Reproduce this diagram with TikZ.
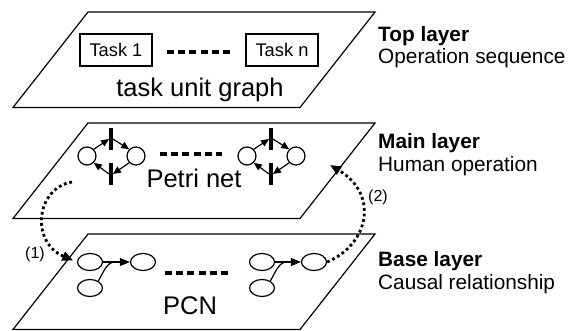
\documentclass[tikz,border=0pt]{standalone}
\usepackage{fontspec}
\setmainfont{Liberation Sans}
\usetikzlibrary{arrows.meta,shapes.geometric}

\tikzset{
  plane/.style={draw, line width=1.2pt, line join=miter},
  taskbox/.style={draw, line width=2.4pt, minimum width=72pt, minimum height=32pt,
    inner sep=0pt, font=\fontsize{18.3}{22}\selectfont},
  layertitle/.style={anchor=base, inner sep=0pt, font=\fontsize{25.5}{30}\selectfont},
  sidehead/.style={anchor=base west, inner sep=0pt, font=\bfseries\fontsize{20.8}{25}\selectfont},
  sidetext/.style={anchor=base west, inner sep=0pt, font=\fontsize{20.8}{25}\selectfont},
  elide/.style={line width=4pt, dash pattern=on 7pt off 4.2pt},
  place/.style={circle, draw, line width=1.2pt, minimum size=18pt, inner sep=0pt},
  trans/.style={rectangle, fill, minimum width=3.4pt, minimum height=22pt, inner sep=0pt},
  parc/.style={line width=1.2pt, -{Triangle[length=8pt,width=7pt]}},
  cnode/.style={ellipse, draw, line width=1.2pt, minimum width=25pt, minimum height=17pt, inner sep=0pt},
  carc/.style={line width=1.2pt, -{Triangle[length=10pt,width=8pt]}},
  cjoin/.style={line width=1.2pt},
  link/.style={line width=2.8pt, dash pattern=on 2.8pt off 2.8pt,
    -{Triangle[length=11pt,width=9pt]}},
  numlabel/.style={inner sep=0pt, font=\fontsize{16}{19}\selectfont},
}

\begin{document}
\begin{tikzpicture}[x=1pt,y=-1pt]
\useasboundingbox (0,0) rectangle (568,331);

% the three layer planes
\draw[plane] (88,12) -- (375,12) -- (300,107.5) -- (13,107.5) -- cycle;
\draw[plane] (88,123) -- (375,123) -- (300,218.5) -- (13,218.5) -- cycle;
\draw[plane] (88,234) -- (375,234) -- (300,329.5) -- (13,329.5) -- cycle;

% top layer: task unit graph
\node[taskbox] (task1) at (116,50) {Task 1};
\node[taskbox] (taskn) at (282,50) {Task n};
\draw[elide] (167,52) -- (230,52);
\node[layertitle] (tug) at (200,97) {task unit graph};

% main layer: Petri net
\node[place] (p1) at (87,156) {};
\node[trans] (t1u) at (111,139) {};
\node[trans] (t1d) at (111,174) {};
\node[place] (p2) at (136,156) {};
\draw[parc] (p1.45) -- (t1u.west);
\draw[parc] (t1u.east) -- (p2.135);
\draw[parc] (p2.225) -- (t1d.east);
\draw[parc] (t1d.west) -- (p1.315);

\node[place] (p3) at (247,156) {};
\node[trans] (t2u) at (271,139) {};
\node[trans] (t2d) at (271,174) {};
\node[place] (p4) at (296,156) {};
\draw[parc] (p3.45) -- (t2u.west);
\draw[parc] (t2u.east) -- (p4.135);
\draw[parc] (p4.225) -- (t2d.east);
\draw[parc] (t2d.west) -- (p3.315);

\draw[elide] (160,154) -- (222,154);
\node[layertitle] (pn) at (194,188) {Petri net};

% base layer: PCN
\node[cnode] (a1) at (90,262) {};
\node[cnode] (b1) at (143,262) {};
\node[cnode] (c1) at (90,288) {};
\draw[carc] (a1.east) -- (b1.west);
\draw[cjoin] (c1.40) .. controls (104,271) and (107,262) .. (115,262);

\node[cnode] (a2) at (262,262) {};
\node[cnode] (b2) at (314,262) {};
\node[cnode] (c2) at (262,288) {};
\draw[carc] (a2.east) -- (b2.west);
\draw[cjoin] (c2.40) .. controls (276,271) and (279,262) .. (287,262);

\draw[elide] (165,273) -- (229,273);
\node[layertitle] (pcn) at (190,315) {PCN};

% links between the main and base layers
\coordinate (m1) at (72,182);
\coordinate (m2) at (330,165);
\draw[link, shorten >=4pt] (m1) .. controls (36,188) and (30,242) .. (a1.west);
\draw[link] (b2.east) .. controls (368,245) and (380,195) .. (m2);
\node[numlabel] (n1) at (35,254) {(1)};
\node[numlabel] (n2) at (378,197) {(2)};

% layer descriptions
\node[sidehead] (h1) at (378,42) {Top layer};
\node[sidetext] (d1) at (378,64) {Operation sequence};
\node[sidehead] (h2) at (378,149) {Main layer};
\node[sidetext] (d2) at (378,172) {Human operation};
\node[sidehead] (h3) at (378,267) {Base layer};
\node[sidetext] (d3) at (378,290) {Causal relationship};
\end{tikzpicture}
\end{document}
